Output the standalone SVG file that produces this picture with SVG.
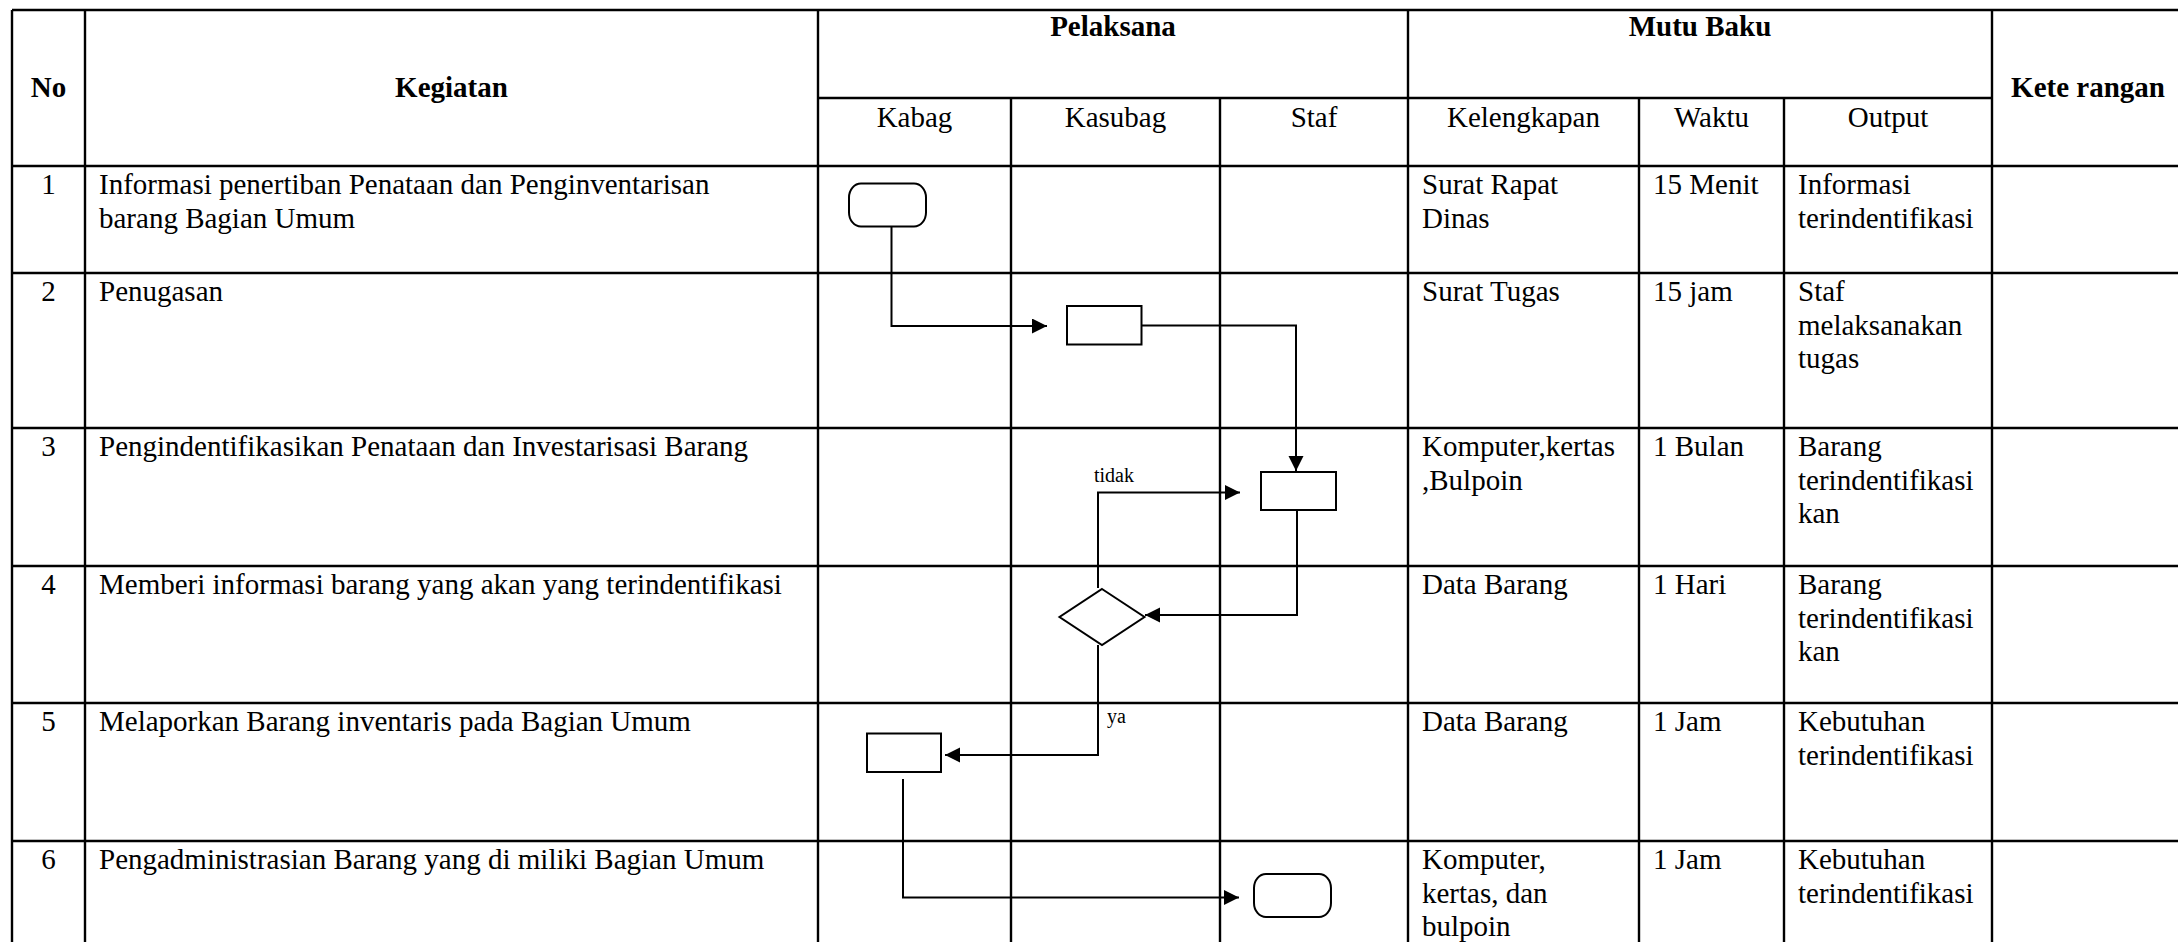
<svg xmlns="http://www.w3.org/2000/svg" width="2178" height="942" viewBox="0 0 2178 942">
<style>
.grid{stroke:#000;stroke-width:2.4;fill:none}
.t{font-family:"Liberation Serif","Times New Roman",serif;font-size:29px;fill:#000}
.h{font-family:"Liberation Serif","Times New Roman",serif;font-size:29px;font-weight:bold;fill:#000}
.c{text-anchor:middle}
.lbl{font-family:"Liberation Serif","Times New Roman",serif;font-size:20px;fill:#000}
.shape{fill:#fff;stroke:#000;stroke-width:2}
.conn{fill:none;stroke:#000;stroke-width:2}
</style>
<defs>
<marker id="arr" markerUnits="userSpaceOnUse" markerWidth="16" markerHeight="16" refX="15" refY="7.5" orient="auto">
<path d="M0,0 L15,7.5 L0,15 Z" fill="#000"/>
</marker>
</defs>
<rect width="2178" height="942" fill="#fff"/>
<g id="table">
<path class="grid" d="M12,10 H2178 M818,98 H1992 M12,166 H2178 M12,273 H2178 M12,428 H2178 M12,566 H2178 M12,703 H2178 M12,841 H2178"/>
<path class="grid" d="M12,10 V942 M85,10 V942 M818,10 V942 M1011,98 V942 M1220,98 V942 M1408,10 V942 M1639,98 V942 M1784,98 V942 M1992,10 V942"/>
<text class="h c" x="48.5" y="97">No</text>
<text class="h c" x="451.5" y="97">Kegiatan</text>
<text class="h c" x="1113" y="36">Pelaksana</text>
<text class="h c" x="1700" y="36">Mutu Baku</text>
<text class="h c" x="2088" y="97">Kete rangan</text>
<text class="t c" x="914.5" y="127">Kabag</text>
<text class="t c" x="1115.5" y="127">Kasubag</text>
<text class="t c" x="1314" y="127">Staf</text>
<text class="t c" x="1523.5" y="127">Kelengkapan</text>
<text class="t c" x="1711.5" y="127">Waktu</text>
<text class="t c" x="1888" y="127">Output</text>
</g>
<g id="row1">
<text class="t c" x="48.5" y="194">1</text>
<text class="t" x="99" y="194">Informasi penertiban Penataan dan Penginventarisan</text>
<text class="t" x="99" y="227.5">barang Bagian Umum</text>
<text class="t" x="1422" y="194">Surat Rapat</text>
<text class="t" x="1422" y="227.5">Dinas</text>
<text class="t" x="1653" y="194">15 Menit</text>
<text class="t" x="1798" y="194">Informasi</text>
<text class="t" x="1798" y="227.5">terindentifikasi</text>
</g>
<g id="row2">
<text class="t c" x="48.5" y="301">2</text>
<text class="t" x="99" y="301">Penugasan</text>
<text class="t" x="1422" y="301">Surat Tugas</text>
<text class="t" x="1653" y="301">15 jam</text>
<text class="t" x="1798" y="301">Staf</text>
<text class="t" x="1798" y="334.5">melaksanakan</text>
<text class="t" x="1798" y="368">tugas</text>
</g>
<g id="row3">
<text class="t c" x="48.5" y="456">3</text>
<text class="t" x="99" y="456">Pengindentifikasikan Penataan dan Investarisasi Barang</text>
<text class="t" x="1422" y="456">Komputer,kertas</text>
<text class="t" x="1422" y="489.5">,Bulpoin</text>
<text class="t" x="1653" y="456">1 Bulan</text>
<text class="t" x="1798" y="456">Barang</text>
<text class="t" x="1798" y="489.5">terindentifikasi</text>
<text class="t" x="1798" y="523">kan</text>
</g>
<g id="row4">
<text class="t c" x="48.5" y="594">4</text>
<text class="t" x="99" y="594">Memberi informasi barang yang akan yang terindentifikasi</text>
<text class="t" x="1422" y="594">Data Barang</text>
<text class="t" x="1653" y="594">1 Hari</text>
<text class="t" x="1798" y="594">Barang</text>
<text class="t" x="1798" y="627.5">terindentifikasi</text>
<text class="t" x="1798" y="661">kan</text>
</g>
<g id="row5">
<text class="t c" x="48.5" y="731">5</text>
<text class="t" x="99" y="731">Melaporkan Barang inventaris pada Bagian Umum</text>
<text class="t" x="1422" y="731">Data Barang</text>
<text class="t" x="1653" y="731">1 Jam</text>
<text class="t" x="1798" y="731">Kebutuhan</text>
<text class="t" x="1798" y="764.5">terindentifikasi</text>
</g>
<g id="row6">
<text class="t c" x="48.5" y="869">6</text>
<text class="t" x="99" y="869">Pengadministrasian Barang yang di miliki Bagian Umum</text>
<text class="t" x="1422" y="869">Komputer,</text>
<text class="t" x="1422" y="902.5">kertas, dan</text>
<text class="t" x="1422" y="936">bulpoin</text>
<text class="t" x="1653" y="869">1 Jam</text>
<text class="t" x="1798" y="869">Kebutuhan</text>
<text class="t" x="1798" y="902.5">terindentifikasi</text>
</g>
<g id="connectors">
<path class="conn" d="M891.5,227 V326 H1047" marker-end="url(#arr)"/>
<path class="conn" d="M1141,325.5 H1296 V471" marker-end="url(#arr)"/>
<path class="conn" d="M1297,510 V615 H1145" marker-end="url(#arr)"/>
<path class="conn" d="M1098,588 V492.5 H1240" marker-end="url(#arr)"/>
<path class="conn" d="M1098,645 V755 H945" marker-end="url(#arr)"/>
<path class="conn" d="M903,779 V897.5 H1239" marker-end="url(#arr)"/>
<text class="lbl" x="1094" y="482">tidak</text>
<text class="lbl" x="1107" y="723">ya</text>
</g>
<g id="n1-start"><rect class="shape" x="849" y="183.5" width="77" height="43" rx="12" ry="14"/></g>
<g id="n2-penugasan"><rect class="shape" x="1067" y="306" width="74.5" height="38.5"/></g>
<g id="n3-identifikasi"><rect class="shape" x="1261" y="472" width="75" height="38"/></g>
<g id="n4-decision"><polygon class="shape" points="1102,589 1144.5,617 1102,645 1059.5,617"/></g>
<g id="n5-laporan"><rect class="shape" x="867" y="733.5" width="74" height="38.5"/></g>
<g id="n6-end"><rect class="shape" x="1254" y="874" width="77" height="43" rx="12" ry="14"/></g>
</svg>
